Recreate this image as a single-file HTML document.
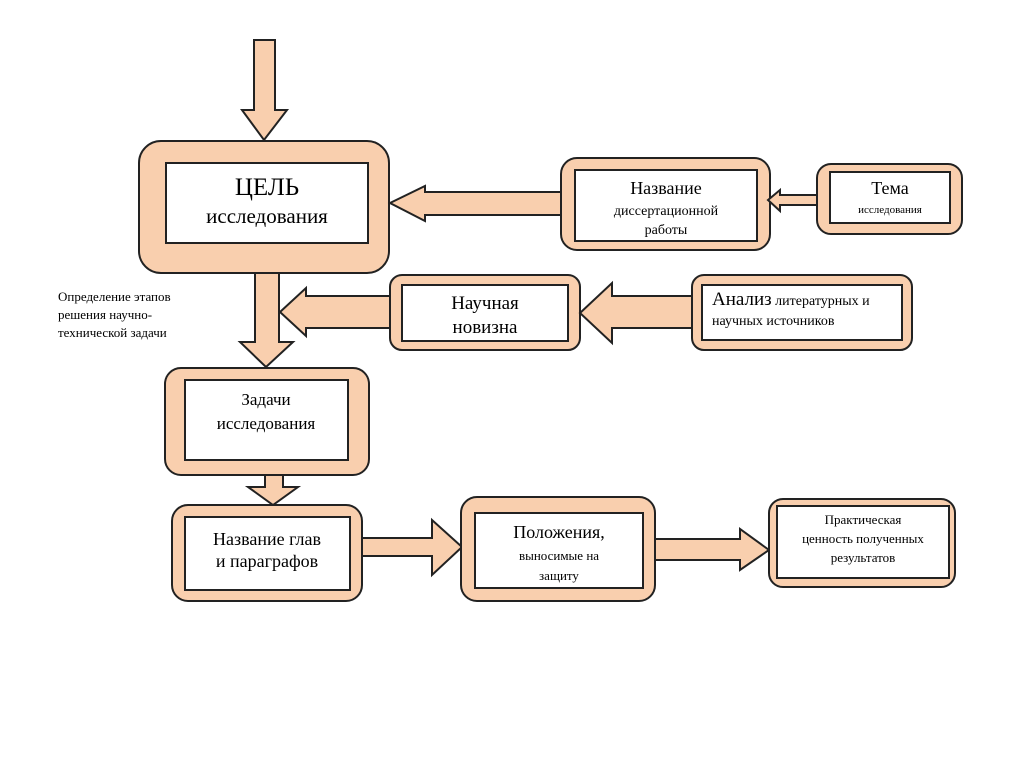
<!DOCTYPE html>
<html><head><meta charset="utf-8"><style>
body{margin:0;background:#fff;}
svg{display:block}
text{font-family:"Liberation Serif","DejaVu Serif",serif;fill:#000}
</style></head><body>
<svg width="1024" height="767" viewBox="0 0 1024 767">
<g fill="#f9cfae" stroke="#222" stroke-width="2" stroke-linejoin="miter">
<!-- top arrow -->
<polygon points="254,40 275,40 275,110 287,110 264,140 242,110 254,110"/>
<!-- ЦЕЛЬ -->
<rect x="139" y="141" width="250" height="132" rx="22"/>
<!-- arrow Название -> ЦЕЛЬ -->
<polygon points="563,192 425,192 425,186 390,203 425,221 425,215 563,215"/>
<!-- Название -->
<rect x="561" y="158" width="209" height="92" rx="16"/>
<!-- small arrow Тема -> Название -->
<polygon points="818,195 780,195 780,190 768,200 780,211 780,205 818,205"/>
<rect x="817" y="164" width="145" height="70" rx="14"/>
<!-- vertical ЦЕЛЬ -> Задачи -->
<polygon points="255,273 279,273 279,342 293,342 266,367 240,342 255,342"/>
<!-- arrow Научная -> stem -->
<polygon points="392,296 306,296 306,288 280,312 306,336 306,328 392,328"/>
<rect x="390" y="275" width="190" height="75" rx="12"/>
<!-- arrow Анализ -> Научная -->
<polygon points="693,296 612,296 612,283 580,313 612,343 612,328 693,328"/>
<rect x="692" y="275" width="220" height="75" rx="12"/>
<!-- Задачи -->
<rect x="165" y="368" width="204" height="107" rx="16"/>
<!-- arrow Задачи -> Главы -->
<polygon points="265,475 283,475 283,487 298,487 273,505 248,487 265,487"/>
<rect x="172" y="505" width="190" height="96" rx="16"/>
<!-- arrow -> Положения -->
<polygon points="362,538 432,538 432,520 462,547 432,575 432,556 362,556"/>
<rect x="461" y="497" width="194" height="104" rx="16"/>
<!-- arrow -> Практическая -->
<polygon points="655,539 740,539 740,529 769,550 740,570 740,560 655,560"/>
<rect x="769" y="499" width="186" height="88" rx="14"/>
</g>
<g fill="#fff" stroke="#222" stroke-width="2">
<rect x="166" y="163" width="202" height="80"/>
<rect x="575" y="170" width="182" height="71"/>
<rect x="830" y="172" width="120" height="51"/>
<rect x="402" y="285" width="166" height="56"/>
<rect x="702" y="285" width="200" height="55"/>
<rect x="185" y="380" width="163" height="80"/>
<rect x="185" y="517" width="165" height="73"/>
<rect x="475" y="513" width="168" height="75"/>
<rect x="777" y="506" width="172" height="72"/>
</g>
<g text-anchor="middle">
<text x="267" y="195" font-size="25">ЦЕЛЬ</text>
<text x="267" y="223" font-size="21">исследования</text>
<text x="666" y="194" font-size="18">Название</text>
<text x="666" y="215" font-size="14">диссертационной</text>
<text x="666" y="234" font-size="14">работы</text>
<text x="890" y="194" font-size="18">Тема</text>
<text x="890" y="213" font-size="11">исследования</text>
<text x="485" y="309" font-size="19">Научная</text>
<text x="485" y="333" font-size="19">новизна</text>
<text x="266" y="405" font-size="17">Задачи</text>
<text x="266" y="429" font-size="17">исследования</text>
<text x="267" y="545" font-size="18">Название глав</text>
<text x="267" y="567" font-size="18">и параграфов</text>
<text x="559" y="538" font-size="18">Положения,</text>
<text x="559" y="560" font-size="13">выносимые на</text>
<text x="559" y="580" font-size="13">защиту</text>
<text x="863" y="524" font-size="13">Практическая</text>
<text x="863" y="543" font-size="13">ценность полученных</text>
<text x="863" y="562" font-size="13">результатов</text>
</g>
<text x="712" y="305"><tspan font-size="19">Анализ</tspan><tspan font-size="14"> литературных и</tspan></text>
<text x="712" y="325" font-size="14">научных источников</text>
<text x="58" y="301" font-size="13">Определение этапов</text>
<text x="58" y="319" font-size="13">решения научно-</text>
<text x="58" y="337" font-size="13">технической задачи</text>
</svg>
</body></html>
